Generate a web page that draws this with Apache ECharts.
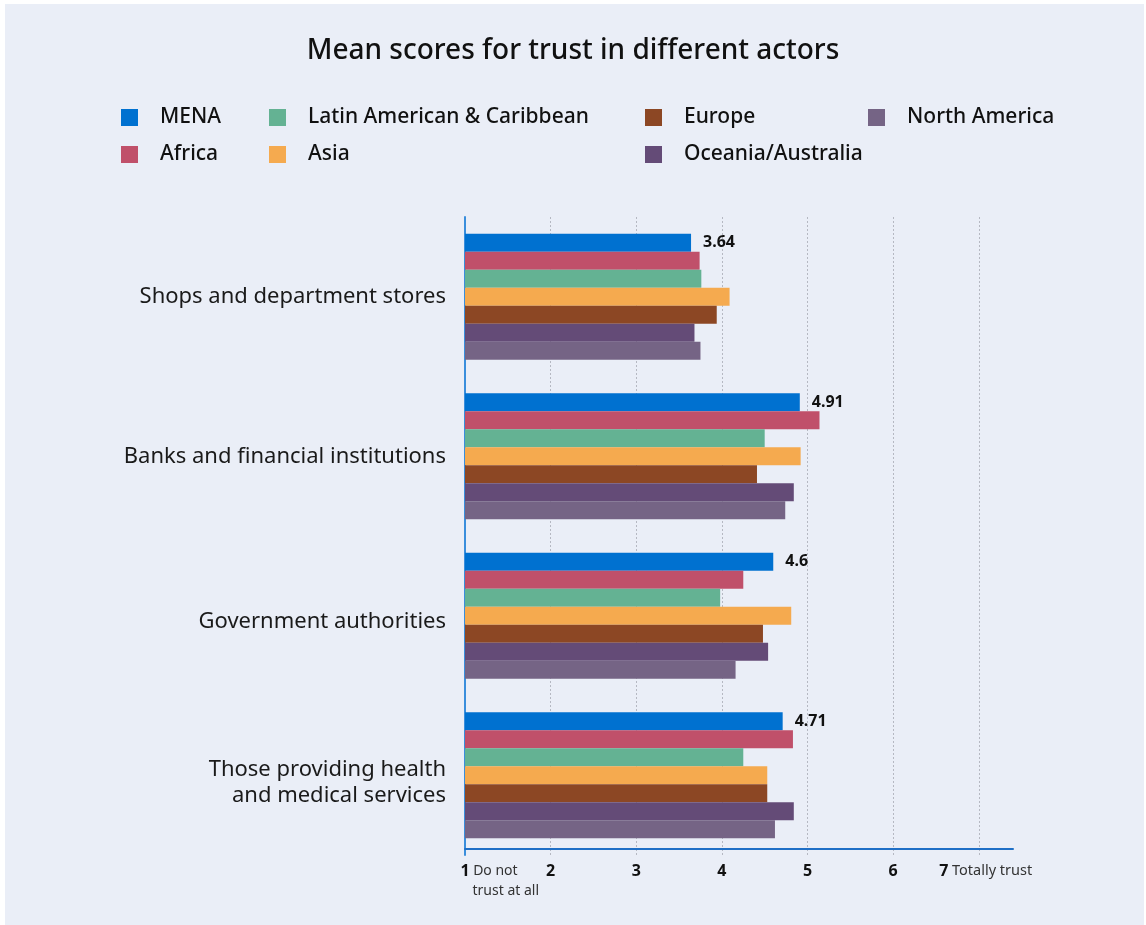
<!DOCTYPE html>
<html><head><meta charset="utf-8">
<script src="https://cdn.jsdelivr.net/npm/echarts@6/dist/echarts.min.js"></script>
<style>
html,body{margin:0;padding:0;background:#ffffff;width:1146px;height:925px;overflow:hidden;}
#panel{position:absolute;left:5px;top:4px;width:1139px;height:921px;background:#EAEEF7;}
#chart{position:absolute;left:0;top:0;width:1146px;height:925px;}
</style></head>
<body><div id="panel"></div><div id="chart"></div>
<script>
const categories = ['Shops and department stores', 'Banks and financial institutions', 'Government authorities', 'Those providing health\nand medical services'];
const seriesNames = ['MENA', 'Africa', 'Latin American & Caribbean', 'Asia', 'Europe', 'Oceania/Australia', 'North America'];
const mena = [3.64, 4.91, 4.6, 4.71];
const africa = [3.74, 5.14, 4.25, 4.83];
const latin = [3.76, 4.50, 3.98, 4.25];
const asia = [4.09, 4.92, 4.81, 4.53];
const europe = [3.94, 4.41, 4.48, 4.53];
const oceania = [3.68, 4.84, 4.54, 4.84];
const northAmerica = [3.75, 4.74, 4.16, 4.62];
const xTicks = [1, 2, 3, 4, 5, 6, 7];

const colors = ['#0071D0', '#C0506A', '#64B293', '#F5AA4F', '#8C4724', '#644B77', '#756485'];
const values = [mena, africa, latin, asia, europe, oceania, northAmerica];

const font = '"Noto Sans", "DejaVu Sans", sans-serif';
const chart = echarts.init(document.getElementById('chart'), null, {renderer: 'canvas'});

const legendPos = [
  {name: 'MENA', left: 121, top: 107},
  {name: 'Latin American & Caribbean', left: 269, top: 107},
  {name: 'Europe', left: 645, top: 107},
  {name: 'North America', left: 868, top: 107},
  {name: 'Africa', left: 121, top: 144},
  {name: 'Asia', left: 269, top: 144},
  {name: 'Oceania/Australia', left: 645, top: 144}
];

const catStyle = {fontFamily: font, fontSize: 22, color: '#1A1A1A', lineHeight: 26};

const option = {
  animation: false,
  backgroundColor: 'transparent',
  color: colors,
  title: {
    text: 'Mean scores for trust in different actors',
    left: 'center',
    top: 32,
    textStyle: {fontFamily: font, fontSize: 28, fontWeight: 500, color: '#111111'}
  },
  legend: legendPos.map(p => ({
    data: [p.name],
    left: p.left,
    top: p.top,
    padding: 0,
    icon: 'rect',
    itemWidth: 17,
    itemHeight: 17,
    selectedMode: false,
    textStyle: {fontFamily: font, fontSize: 21, fontWeight: 500, color: '#111111', padding: [0, 0, 0, 17]}
  })),
  grid: {left: 465, right: 133, top: 217, height: 638, containLabel: false},
  xAxis: {
    type: 'value',
    min: 1,
    max: 7.4,
    interval: 1,
    offset: -6,
    axisLine: {show: true, lineStyle: {color: '#1F6FC6', width: 2}},
    axisTick: {show: false},
    splitLine: {show: true, showMinLine: false, showMaxLine: false, lineStyle: {color: '#B5B8C2', type: [2, 2], width: 1}},
    axisLabel: {
      margin: 12,
      showMaxLabel: false,
      formatter: function (v) {
        if (xTicks.indexOf(v) < 0) return '';
        if (v === 1) return '{p1|}{n|1}{a| Do not}\n{p2|}{b|trust at all}';
        if (v === 7) return '{p3|}{n|7}{c| Totally trust}';
        return '{m|' + v + '}';
      },
      rich: {
        m: {fontFamily: font, fontSize: 16, fontWeight: 'bold', color: '#111111', lineHeight: 20},
        n: {fontFamily: font, fontSize: 16, fontWeight: 'bold', color: '#111111', lineHeight: 20, width: 9, align: 'left'},
        p1: {width: 71, align: 'left'},
        a: {fontFamily: font, fontSize: 14, color: '#333333', width: 71, align: 'left', lineHeight: 20},
        p2: {width: 83, align: 'left'},
        b: {fontFamily: font, fontSize: 14, color: '#333333', width: 68, align: 'left', lineHeight: 20},
        p3: {width: 14, align: 'left'},
        c: {fontFamily: font, fontSize: 14.5, color: '#333333', lineHeight: 20, align: 'left'}
      }
    }
  },
  yAxis: {
    type: 'category',
    inverse: true,
    data: categories,
    axisLine: {show: true, lineStyle: {color: '#3A8EDC', width: 2}},
    axisTick: {show: false},
    axisLabel: {
      margin: 19,
      align: 'right',
      fontFamily: font, fontSize: 22, color: '#1A1A1A', lineHeight: 26,
      formatter: function (v, idx) {
        if (idx === 2) return '{g|' + v + '}';
        if (idx === 3) {
          const parts = v.split('\n');
          return '{s| }\n{t|' + parts[0] + '}\n{t|' + parts[1] + '}';
        }
        return v;
      },
      rich: {
        g: Object.assign({}, catStyle, {padding: [12, 0, 0, 0]}),
        s: {fontSize: 1, lineHeight: 14, height: 14},
        t: Object.assign({}, catStyle)
      }
    }
  },
  series: seriesNames.map((name, i) => ({
    name: name,
    type: 'bar',
    data: values[i],
    barWidth: 18,
    barGap: '0%',
    itemStyle: {color: colors[i]},
    label: i === 0 ? {show: true, position: 'right', distance: 12, fontFamily: font, fontSize: 16, fontWeight: 'bold', color: '#111111'} : {show: false}
  }))
};
chart.setOption(option);
</script>
</body></html>
